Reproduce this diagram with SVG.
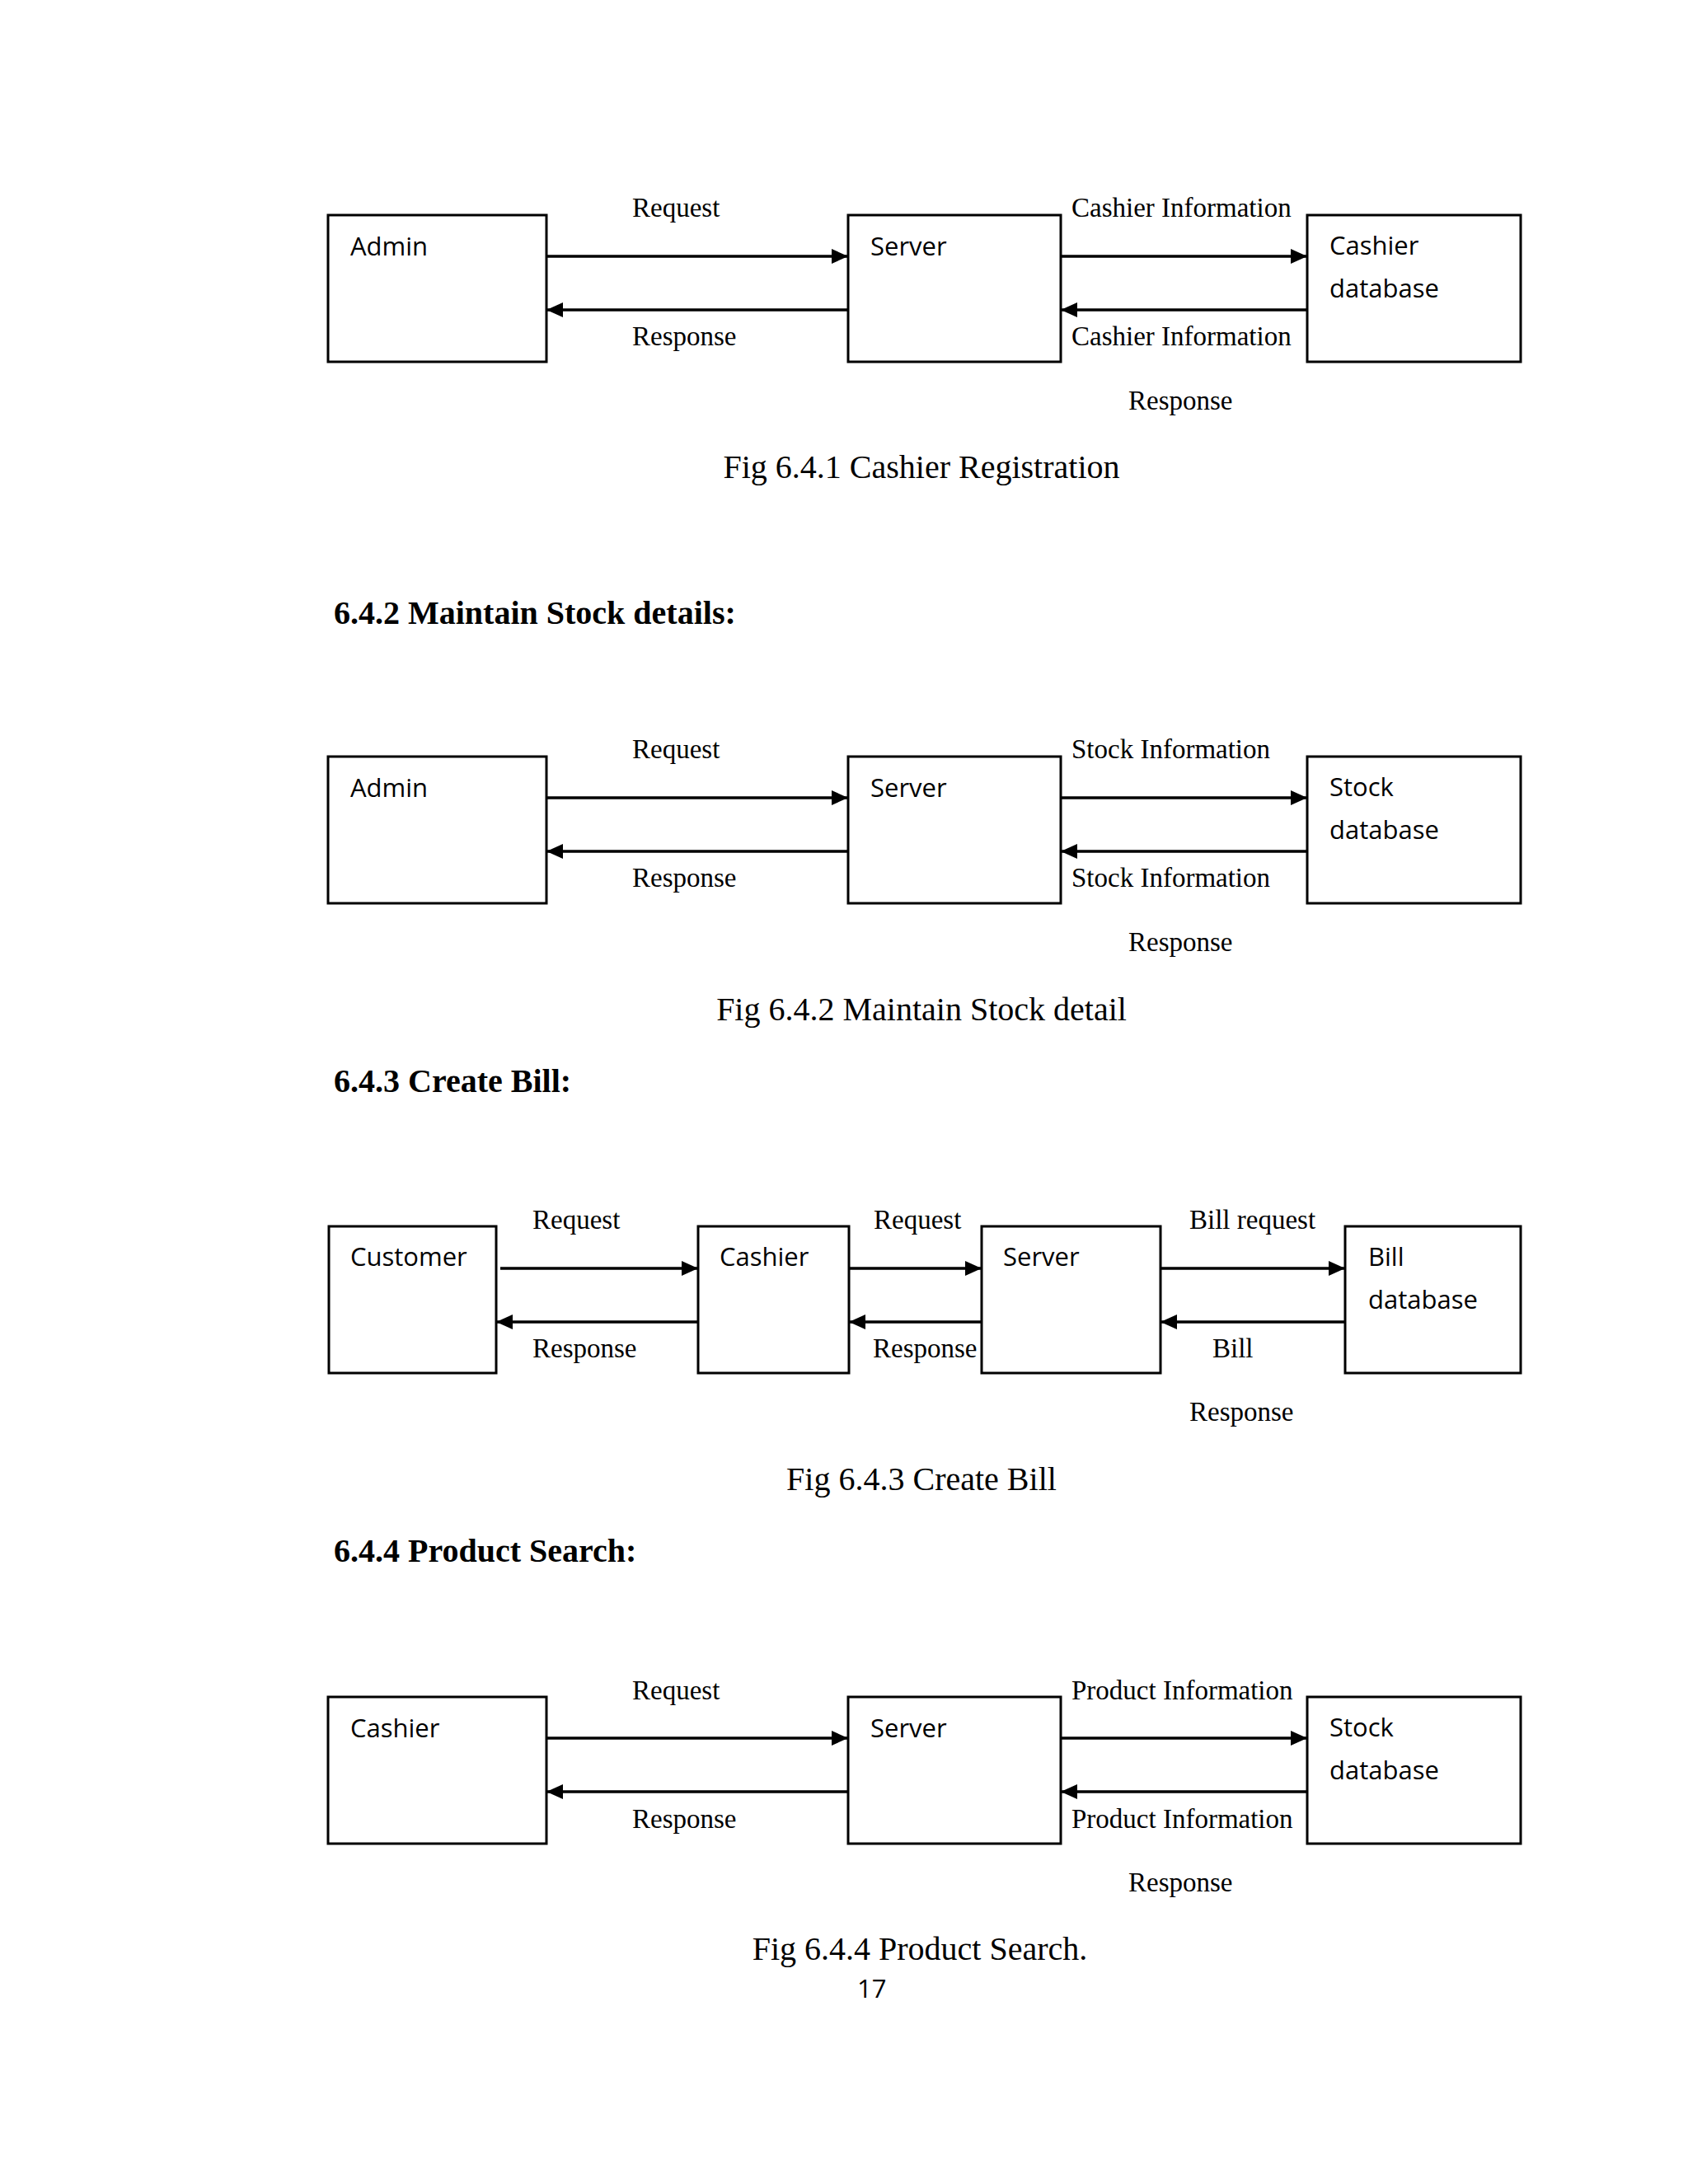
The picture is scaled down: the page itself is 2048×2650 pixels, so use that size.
<svg xmlns="http://www.w3.org/2000/svg" width="2048" height="2650" viewBox="0 0 2048 2650">
<style>
.box{fill:#fff;stroke:#000;stroke-width:3}
.nt{font-family:"Open Sans","Noto Sans",sans-serif;font-size:31px;fill:#000}
.lb{font-family:"Liberation Serif","Times New Roman",serif;font-size:33px;fill:#000}
.cap{font-family:"Liberation Serif","Times New Roman",serif;font-size:40px;fill:#000;text-anchor:middle}
.hd{font-family:"Liberation Serif","Times New Roman",serif;font-size:40px;font-weight:bold;fill:#000}
.ar{stroke:#000;stroke-width:3.5;fill:none;marker-end:url(#ah)}
</style>
<defs>
<marker id="ah" markerUnits="userSpaceOnUse" markerWidth="20" markerHeight="18" refX="20" refY="9" orient="auto">
<path d="M0,0 L20,9 L0,18 z" fill="#000"/>
</marker>
</defs>
<rect width="2048" height="2650" fill="#fff"/>

<!-- Diagram 1 -->
<g id="d1-admin"><rect class="box" x="398" y="261" width="265" height="178"/><text class="nt" x="425" y="310">Admin</text></g>
<g id="d1-server"><rect class="box" x="1029" y="261" width="258" height="178"/><text class="nt" x="1056" y="310">Server</text></g>
<g id="d1-db"><rect class="box" x="1586" y="261" width="259" height="178"/><text class="nt" x="1613" y="309">Cashier</text><text class="nt" x="1613" y="361">database</text></g>
<g id="d1-connectors">
<line class="ar" x1="663" y1="311" x2="1029" y2="311"/>
<line class="ar" x1="1029" y1="376" x2="663" y2="376"/>
<line class="ar" x1="1287" y1="311" x2="1586" y2="311"/>
<line class="ar" x1="1586" y1="376" x2="1287" y2="376"/>
</g>
<g id="d1-labels">
<text class="lb" x="767" y="263">Request</text>
<text class="lb" x="767" y="419">Response</text>
<text class="lb" x="1300" y="263">Cashier Information</text>
<text class="lb" x="1300" y="419">Cashier Information</text>
<text class="lb" x="1369" y="497">Response</text>
<text class="cap" x="1118" y="580">Fig 6.4.1 Cashier Registration</text>
</g>

<text class="hd" x="405" y="757">6.4.2 Maintain Stock details:</text>

<!-- Diagram 2 -->
<g id="d2-admin"><rect class="box" x="398" y="918" width="265" height="178"/><text class="nt" x="425" y="967">Admin</text></g>
<g id="d2-server"><rect class="box" x="1029" y="918" width="258" height="178"/><text class="nt" x="1056" y="967">Server</text></g>
<g id="d2-db"><rect class="box" x="1586" y="918" width="259" height="178"/><text class="nt" x="1613" y="966">Stock</text><text class="nt" x="1613" y="1018">database</text></g>
<g id="d2-connectors">
<line class="ar" x1="663" y1="968" x2="1029" y2="968"/>
<line class="ar" x1="1029" y1="1033" x2="663" y2="1033"/>
<line class="ar" x1="1287" y1="968" x2="1586" y2="968"/>
<line class="ar" x1="1586" y1="1033" x2="1287" y2="1033"/>
</g>
<g id="d2-labels">
<text class="lb" x="767" y="920">Request</text>
<text class="lb" x="767" y="1076">Response</text>
<text class="lb" x="1300" y="920">Stock Information</text>
<text class="lb" x="1300" y="1076">Stock Information</text>
<text class="lb" x="1369" y="1154">Response</text>
<text class="cap" x="1118" y="1238">Fig 6.4.2 Maintain Stock detail</text>
</g>

<text class="hd" x="405" y="1325">6.4.3 Create Bill:</text>

<!-- Diagram 3 -->
<g id="d3-customer"><rect class="box" x="399" y="1488" width="203" height="178"/><text class="nt" x="425" y="1536">Customer</text></g>
<g id="d3-cashier"><rect class="box" x="847" y="1488" width="183" height="178"/><text class="nt" x="873" y="1536">Cashier</text></g>
<g id="d3-server"><rect class="box" x="1191" y="1488" width="217" height="178"/><text class="nt" x="1217" y="1536">Server</text></g>
<g id="d3-db"><rect class="box" x="1632" y="1488" width="213" height="178"/><text class="nt" x="1660" y="1536">Bill</text><text class="nt" x="1660" y="1588">database</text></g>
<g id="d3-connectors">
<line class="ar" x1="607" y1="1539" x2="847" y2="1539"/>
<line class="ar" x1="847" y1="1604" x2="602" y2="1604"/>
<line class="ar" x1="1030" y1="1539" x2="1191" y2="1539"/>
<line class="ar" x1="1191" y1="1604" x2="1030" y2="1604"/>
<line class="ar" x1="1408" y1="1539" x2="1632" y2="1539"/>
<line class="ar" x1="1632" y1="1604" x2="1408" y2="1604"/>
</g>
<g id="d3-labels">
<text class="lb" x="646" y="1491">Request</text>
<text class="lb" x="1060" y="1491">Request</text>
<text class="lb" x="1443" y="1491">Bill request</text>
<text class="lb" x="646" y="1647">Response</text>
<text class="lb" x="1059" y="1647">Response</text>
<text class="lb" x="1471" y="1647">Bill</text>
<text class="lb" x="1443" y="1724">Response</text>
<text class="cap" x="1118" y="1808">Fig 6.4.3 Create Bill</text>
</g>

<text class="hd" x="405" y="1895">6.4.4 Product Search:</text>

<!-- Diagram 4 -->
<g id="d4-cashier"><rect class="box" x="398" y="2059" width="265" height="178"/><text class="nt" x="425" y="2108">Cashier</text></g>
<g id="d4-server"><rect class="box" x="1029" y="2059" width="258" height="178"/><text class="nt" x="1056" y="2108">Server</text></g>
<g id="d4-db"><rect class="box" x="1586" y="2059" width="259" height="178"/><text class="nt" x="1613" y="2107">Stock</text><text class="nt" x="1613" y="2159">database</text></g>
<g id="d4-connectors">
<line class="ar" x1="663" y1="2109" x2="1029" y2="2109"/>
<line class="ar" x1="1029" y1="2174" x2="663" y2="2174"/>
<line class="ar" x1="1287" y1="2109" x2="1586" y2="2109"/>
<line class="ar" x1="1586" y1="2174" x2="1287" y2="2174"/>
</g>
<g id="d4-labels">
<text class="lb" x="767" y="2062">Request</text>
<text class="lb" x="767" y="2218">Response</text>
<text class="lb" x="1300" y="2062">Product Information</text>
<text class="lb" x="1300" y="2218">Product Information</text>
<text class="lb" x="1369" y="2295">Response</text>
<text class="cap" x="1116" y="2378">Fig 6.4.4 Product Search.</text>
</g>

<text class="nt" x="1040" y="2424">17</text>
</svg>
